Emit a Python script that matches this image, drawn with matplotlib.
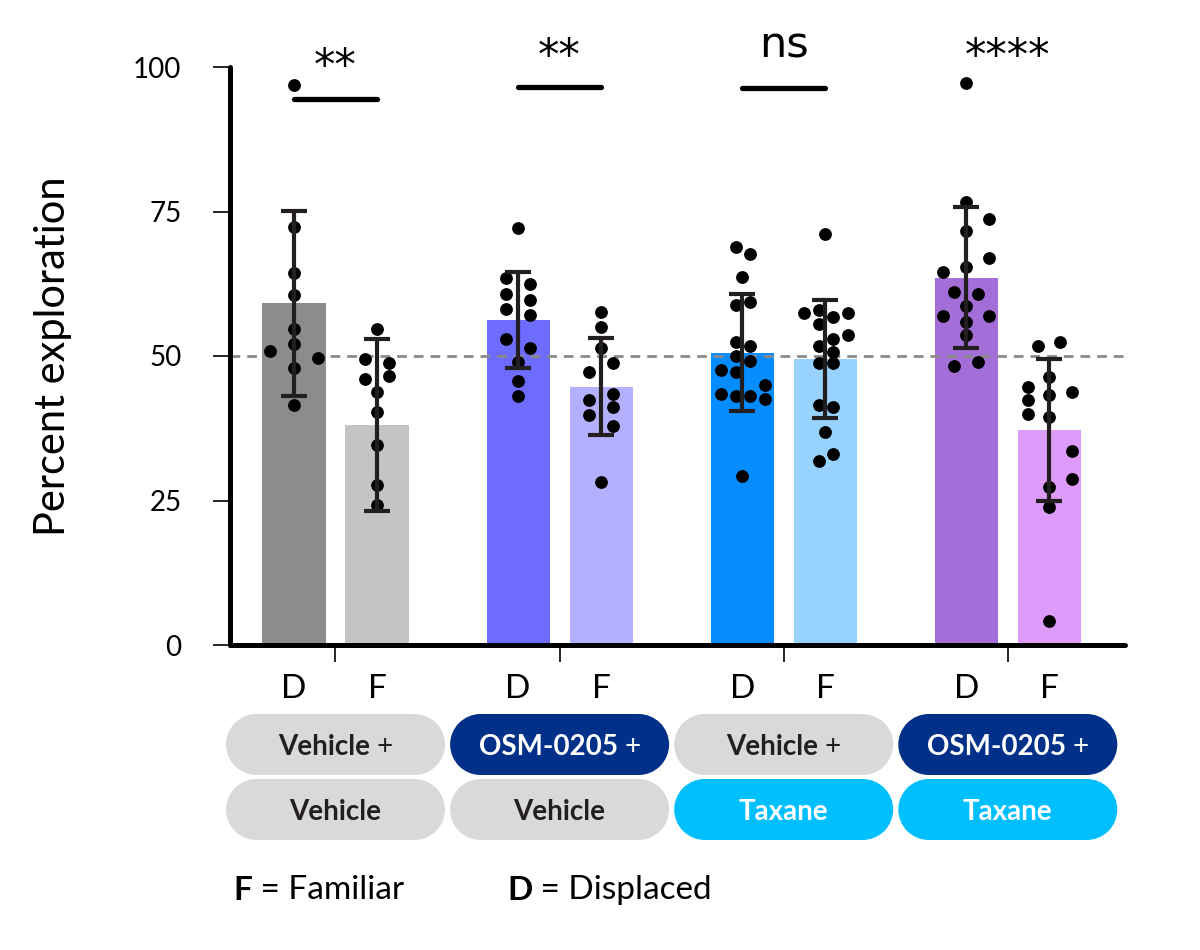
import matplotlib
matplotlib.use('Agg')
import matplotlib.pyplot as plt
from matplotlib.patches import Rectangle, Circle
import numpy as np

plt.rcParams['font.family'] = ['Lato', 'DejaVu Sans']

# ---------------- data ----------------
treatment_top = ["Vehicle +", "OSM-0205 +", "Vehicle +", "OSM-0205 +"]
treatment_bottom = ["Vehicle", "Vehicle", "Taxane", "Taxane"]
conditions = ["D", "F"]

mean_D = [59.1, 56.2, 50.6, 63.5]
mean_F = [38.1, 44.7, 49.5, 37.2]
sd_D = [16.0, 8.3, 10.15, 12.2]
sd_F = [14.9, 8.45, 10.2, 12.2]

sig_labels = ["**", "**", "ns", "****"]
chance_level = 50

# individual animals (percent exploration) and their swarm slot
g1_D = [96.9, 72.4, 64.4, 60.6, 54.7, 52.0, 50.8, 49.7, 48.0, 41.5]
g1_D_slot = [0, 0, 0, 0, 0, 0, -2, 2, 0, 0]
g1_F = [54.7, 49.5, 48.8, 46.0, 46.5, 43.7, 40.3, 34.6, 27.7, 24.2]
g1_F_slot = [0, -1, 1, -1, 1, 0, 0, 0, 0, 0]

g2_D = [72.1, 63.5, 62.5, 60.7, 59.7, 58.2, 57.1, 52.9, 51.3, 48.9, 45.6, 43.1]
g2_D_slot = [0, -1, 1, -1, 1, -1, 1, -1, 1, 0, 0, 0]
g2_F = [57.6, 55.0, 51.4, 48.8, 47.3, 43.5, 42.4, 41.1, 39.8, 37.9, 28.2]
g2_F_slot = [0, 0, 0, 1, -1, 1, -1, 1, -1, 1, 0]

g3_D = [68.9, 67.6, 63.6, 58.9, 59.3, 52.4, 51.8, 50.0, 49.1, 47.6, 47.3,
        45.0, 43.5, 43.1, 43.1, 42.6, 29.3]
g3_D_slot = [-0.55, 0.65, 0, -0.55, 0.65, -0.55, 0.65, -0.55, 0.65, -1.8, -0.55,
             1.9, -1.8, -0.55, 0.65, 1.9, 0]
g3_F = [71.1, 57.5, 57.9, 57.5, 56.8, 55.5, 53.6, 52.9, 51.8, 50.7, 48.8,
        48.8, 41.6, 41.1, 36.8, 33.0, 31.9]
g3_F_slot = [0, -1.8, -0.55, 1.9, 0.65, -0.55, 1.9, 0.65, -0.55, 0.65, -0.55,
             0.65, -0.55, 0.65, 0, 0.65, -0.55]

g4_D = [97.2, 76.7, 73.7, 71.6, 67.0, 64.6, 65.4, 61.1, 60.7, 58.7, 56.9,
        56.9, 55.8, 53.6, 48.2, 48.9]
g4_D_slot = [0, 0, 1.9, 0, 1.9, -1.9, 0, -1.05, 1.0, 0, -1.9,
             1.9, 0, 0, -1.05, 1.0]
g4_F = [51.8, 52.5, 46.4, 44.7, 43.3, 43.7, 42.4, 40.0, 39.4, 33.5, 28.8,
        27.3, 23.8, 4.2]
g4_F_slot = [-0.9, 0.9, 0, -1.8, 0, 1.9, -1.8, -1.8, 0, 1.9, 1.9,
             0, 0, 0]

points_D = [g1_D, g2_D, g3_D, g4_D]
slots_D = [g1_D_slot, g2_D_slot, g3_D_slot, g4_D_slot]
points_F = [g1_F, g2_F, g3_F, g4_F]
slots_F = [g1_F_slot, g2_F_slot, g3_F_slot, g4_F_slot]

# ---------------- style ----------------
colors_D = ["#8c8c8c", "#6e6bff", "#058dff", "#a36ed8"]
colors_F = ["#c4c4c4", "#b3b1ff", "#98d3ff", "#dd9bfa"]
pill_top_colors = ["#d9d9d9", "#003087", "#d9d9d9", "#003087"]
pill_bottom_colors = ["#d9d9d9", "#d9d9d9", "#00bfff", "#00bfff"]
pill_text_dark = "#231f20"

group_gap = 2.7
bar_w = 0.76
slot_w = 0.145

W, H = 1200, 950
fig = plt.figure(figsize=(W / 100, H / 100), dpi=100)
ax = fig.add_axes([230 / W, 1 - 645 / H, 895 / W, 578 / H])

n = len(mean_D)
xD = np.arange(n) * group_gap
xF = xD + 1
xc = (xD + xF) / 2

ax.bar(xD, mean_D, width=bar_w, color=colors_D, zorder=1)
ax.bar(xF, mean_F, width=bar_w, color=colors_F, zorder=1)

ax.axhline(chance_level, color="#8a8a8a", lw=2.0, ls=(0, (3.5, 2.5)), zorder=2)

for i in range(n):
    ax.scatter(xD[i] + np.array(slots_D[i]) * slot_w, points_D[i], s=85,
               color="black", zorder=3, linewidths=0, clip_on=False)
    ax.scatter(xF[i] + np.array(slots_F[i]) * slot_w, points_F[i], s=85,
               color="black", zorder=3, linewidths=0, clip_on=False)

ax.errorbar(xD, mean_D, yerr=sd_D, fmt="none", ecolor="#231f20", elinewidth=3,
            capsize=9.5, capthick=3, zorder=4)
ax.errorbar(xF, mean_F, yerr=sd_F, fmt="none", ecolor="#231f20", elinewidth=3,
            capsize=9.5, capthick=3, zorder=4)

# significance
sig_line_y = [94.5, 96.5, 96.4]
sig_text_y = [97.9, 99.7, 101.6, 99.6]
for i in range(n):
    if i < len(sig_line_y):
        ax.plot([xD[i], xF[i]], [sig_line_y[i]] * 2, color="black", lw=3.8,
                solid_capstyle="round", clip_on=False, zorder=5)
    ax.text(xc[i], sig_text_y[i], sig_labels[i], ha="center", va="baseline",
            fontsize=31, family="DejaVu Sans", clip_on=False)

# axes
ax.set_xlim(-0.771, 10.012)
ax.set_ylim(0, 100)
ax.set_yticks([0, 25, 50, 75, 100])
ax.tick_params(axis="y", direction="out", length=12, width=1.2, pad=23,
               labelsize=20)
ax.set_xticks(np.concatenate([xD, xF]))
ax.set_xticklabels(conditions[:1] * n + conditions[1:] * n)
ax.tick_params(axis="x", which="major", length=0, pad=21, labelsize=24)
ax.set_xticks(xc, minor=True)
ax.tick_params(axis="x", which="minor", direction="out", length=12, width=1.2)
for s in ["top", "right"]:
    ax.spines[s].set_visible(False)
for s in ["left", "bottom"]:
    ax.spines[s].set_linewidth(3.6)
    ax.spines[s].set_capstyle("round")
ax.set_ylabel("Percent exploration", fontsize=30)
ax.yaxis.set_label_coords(-0.177, 0.5)

# pills beneath (stadium shapes in pixel coordinates)
ov = fig.add_axes([0, 0, 1, 1])
ov.set_xlim(0, W)
ov.set_ylim(0, H)
ov.axis("off")
ov.patch.set_alpha(0)
pw, ph = 219, 61
r = ph / 2
rows = [(H - 775, treatment_top, pill_top_colors),
        (H - 840, treatment_bottom, pill_bottom_colors)]
renderer = fig.canvas.get_renderer()
for y0, labels, cols in rows:
    for i in range(n):
        cx_pix = ax.transData.transform((xc[i], 0))[0]
        x0 = cx_pix - pw / 2
        ov.add_patch(Rectangle((x0 + r, y0), pw - 2 * r, ph, fc=cols[i],
                               ec="none", antialiased=True))
        ov.add_patch(Circle((x0 + r, y0 + r), r, fc=cols[i], ec="none"))
        ov.add_patch(Circle((x0 + pw - r, y0 + r), r, fc=cols[i], ec="none"))
        tc = pill_text_dark if cols[i] == "#d9d9d9" else "white"
        main = labels[i]
        tail = ""
        if main.endswith(" +"):
            main, tail = main[:-2], " +"
        t_main = ov.text(cx_pix, y0 + ph / 2, main, ha="left",
                         va="center_baseline", fontsize=20, fontweight="bold",
                         color=tc)
        w_main = t_main.get_window_extent(renderer).width
        w_tail = 0
        if tail:
            t_tail = ov.text(cx_pix, y0 + ph / 2, tail, ha="left",
                             va="center_baseline", fontsize=20, color=tc)
            w_tail = t_tail.get_window_extent(renderer).width
        x_start = cx_pix - (w_main + w_tail) / 2
        t_main.set_x(x_start)
        if tail:
            t_tail.set_x(x_start + w_main)

# legend text
t1 = fig.text(233 / W, 50 / H, "F", fontsize=24, fontweight="bold",
              va="baseline")
fig.canvas.draw()
ov.annotate(" = Familiar", xy=(1, 0), xycoords=t1, fontsize=24,
            va="bottom", ha="left")
t2 = fig.text(507 / W, 50 / H, "D", fontsize=24, fontweight="bold",
              va="baseline")
ov.annotate(" = Displaced", xy=(1, 0), xycoords=t2, fontsize=24,
            va="bottom", ha="left")

fig.savefig("out.png", dpi=100)
